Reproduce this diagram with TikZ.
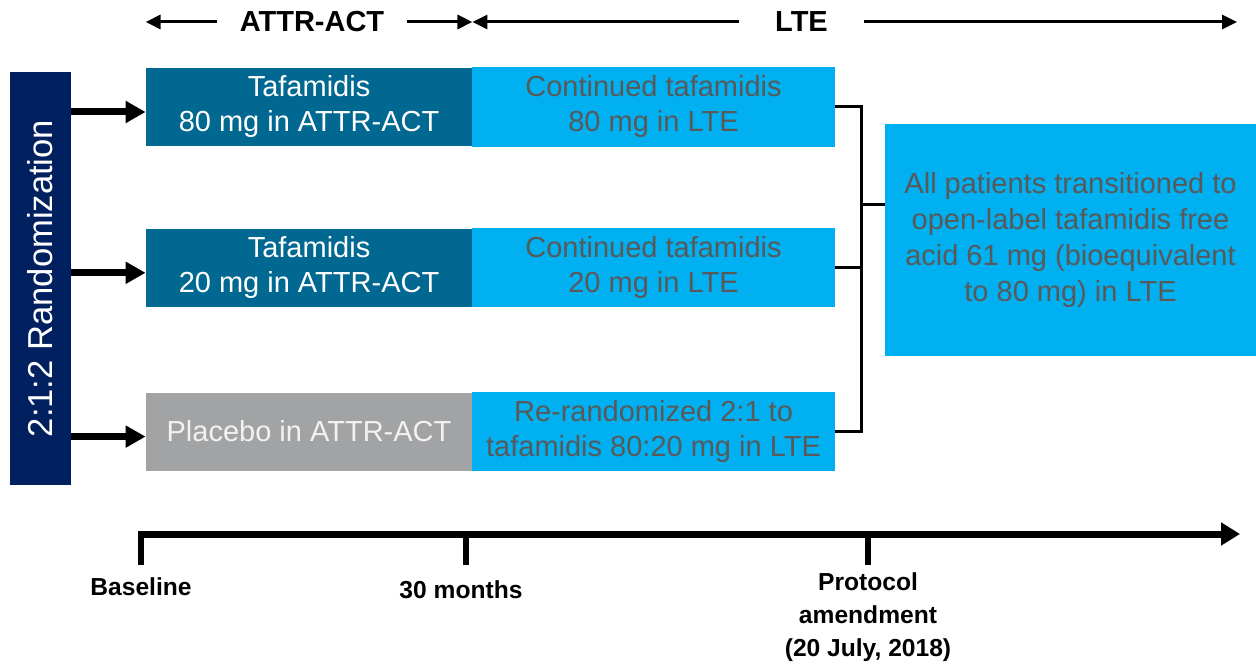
\documentclass[tikz,border=0pt]{standalone}
\usepackage{fontspec}
\setmainfont{Liberation Sans}
\usepackage{graphicx}
\usepackage{tikz}
\usetikzlibrary{arrows.meta, positioning}
\usepackage{xcolor}
\definecolor{navy}{RGB}{0,32,96}
\definecolor{trialteal}{RGB}{0,104,145}
\definecolor{ltecyan}{RGB}{0,176,240}
\definecolor{placebogray}{RGB}{162,163,165}
\definecolor{txtgray}{RGB}{89,89,89}

\begin{document}
\begin{tikzpicture}[
    x=0.5pt, y=-0.5pt,
    arm/.style={rectangle, inner sep=0pt, minimum height=39pt, align=center,
                font=\fontsize{14.5}{17.5}\selectfont},
    trial/.style={arm, fill=trialteal, text=white, minimum width=163pt},
    lte/.style={arm, fill=ltecyan, draw=ltecyan, line width=0.6pt, text=txtgray,
                minimum width=180.5pt},
    randbar/.style={rectangle, fill=navy, text=white, inner sep=0pt,
                    minimum width=30.5pt, minimum height=206.5pt,
                    font=\fontsize{17.3}{20}\selectfont},
    hdr/.style={inner ysep=0pt, font=\fontsize{14.5}{17}\selectfont\bfseries},
    mile/.style={inner sep=0pt, align=center,
                 font=\fontsize{12.3}{16.5}\selectfont\bfseries},
    fatarrow/.style={line width=3.5pt, -{Triangle[length=10pt, width=10.5pt]}},
    hdrarrow/.style={line width=1.5pt, -{Triangle[length=7.5pt, width=7pt]}},
    timeline/.style={line width=3.5pt, -{Triangle[length=9.5pt, width=11pt]}},
    tick/.style={line width=3pt},
    joint/.style={line width=1.5pt}
  ]
  \useasboundingbox (0,0) rectangle (1256,663);

  % randomization bar
  \node[randbar] (rand) at (40.5,278.5) {\rotatebox{90}{2:1:2 Randomization}};

  % ATTR-ACT arms
  \node[trial] (tafa80) at (309,107) {Tafamidis\\80 mg in ATTR-ACT};
  \node[trial, below=41pt of tafa80] (tafa20) {Tafamidis\\20 mg in ATTR-ACT};
  \node[trial, fill=placebogray, text=white!95!black, below=42.5pt of tafa20] (plac)
    {Placebo in ATTR-ACT};

  % LTE arms
  \node[lte, right=0pt of tafa80] (lte80) {Continued tafamidis\\80 mg in LTE};
  \node[lte, right=0pt of tafa20] (lte20) {Continued tafamidis\\20 mg in LTE};
  \node[lte, right=0pt of plac] (lteplac) {Re-randomized 2:1 to\\tafamidis 80:20 mg in LTE};

  \node[lte, minimum width=184.5pt, minimum height=115pt,
        font=\fontsize{14.5}{18}\selectfont] (allpts) at (1070.5,240)
    {All patients transitioned to\\open-label tafamidis free\\acid 61 mg (bioequivalent\\to 80 mg) in LTE};

  % randomization arrows
  \foreach \arm in {tafa80, tafa20, plac}
    \draw[fatarrow] ([yshift=-2.5pt]\arm.west -| rand.east) -- ([yshift=-2.5pt]\arm.west);

  % bracket joining the LTE arms
  \draw[joint] (lte80.east) -- ++(13.5pt,0) coordinate (jtop) |- (lteplac.east);
  \draw[joint] (lte20.east) -- (lte20.east -| jtop);
  \coordinate (jmid) at (jtop |- 0,205);
  \draw[joint] (jmid) -- (jmid -| allpts.west);

  % study periods
  \node[hdr, inner xsep=11pt] (attract) at (312,22) {ATTR-ACT};
  \node[hdr, inner xsep=18pt] (ltehdr) at (801.5,22) {LTE};
  \coordinate (h0) at (tafa80.north west |- attract);
  \coordinate (h1) at (tafa80.north east |- attract);
  \coordinate (h2) at (1237,22);
  \draw[hdrarrow] (attract.west) -- (h0);
  \draw[hdrarrow] (attract.east) -- (h1);
  \draw[hdrarrow] (ltehdr.west) -- (h1);
  \draw[hdrarrow] (ltehdr.east) -- (h2);

  % timeline
  \coordinate (tstart) at (138,534);
  \coordinate (tend) at (1240,534);
  \draw[timeline] (tstart) -- (tend);
  \foreach \x/\name in {141/base, 465.5/mo30, 868/amend}
    \draw[tick] (\x,534) coordinate (\name) -- ++(0,31);

  \node[mile] (baselbl) at (141,587) {Baseline};
  \node[mile] (mo30lbl) at (461,590) {30 months};
  \node[mile] (amendlbl) at (868,617) {Protocol\\amendment\\(20 July, 2018)};
\end{tikzpicture}
\end{document}
